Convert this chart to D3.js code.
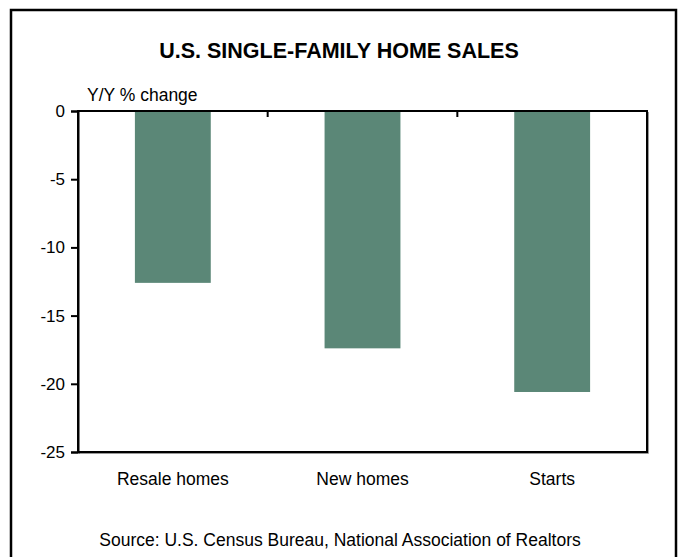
<!DOCTYPE html>
<html>
<head>
<meta charset="utf-8">
<script src="https://cdn.jsdelivr.net/npm/d3@7"></script>
<style>
  body { margin: 0; background: #fff; }
  text { font-family: Arial, "Liberation Sans", sans-serif; fill: #000; }
</style>
</head>
<body>
<div id="chart"></div>
<script>
// chart data
var categories = ["Resale homes", "New homes", "Starts"];
var values = [-12.6, -17.4, -20.6];
var yTicks = [0, -5, -10, -15, -20, -25];

var W = 681, H = 557;
var margin = {top: 111, left: 78, right: 34, bottom: 105};
var width = W - margin.left - margin.right,
    height = H - margin.top - margin.bottom;

var svg = d3.select("#chart").append("svg")
    .attr("width", W)
    .attr("height", H);

// outer box
svg.append("rect")
    .attr("x", 11).attr("y", 10)
    .attr("width", 665).attr("height", 560)
    .attr("fill", "none")
    .attr("stroke", "#000")
    .attr("stroke-width", 2.5);

// title
svg.append("text")
    .attr("x", 339).attr("y", 58)
    .attr("text-anchor", "middle")
    .style("font-size", "21.5px")
    .style("font-weight", "bold")
    .text("U.S. SINGLE-FAMILY HOME SALES");

var g = svg.append("g")
    .attr("transform", "translate(" + margin.left + "," + margin.top + ")");

var x = d3.scaleBand()
    .domain(categories)
    .range([0, width])
    .paddingInner(0.6)
    .paddingOuter(0.3);

var y = d3.scaleLinear()
    .domain([0, -25])
    .range([0, height]);

// bars
g.selectAll("rect.bar")
    .data(values)
    .enter().append("rect")
      .attr("class", "bar")
      .attr("x", function(d, i) { return x(categories[i]); })
      .attr("y", y(0))
      .attr("width", x.bandwidth())
      .attr("height", function(d) { return y(d) - y(0); })
      .attr("fill", "#5b8777");

// shadow for the frame lines
g.append("path")
    .attr("d", "M" + (width + 1.5) + "," + 1 + "V" + (height + 1.5) + "H1")
    .attr("fill", "none")
    .attr("stroke", "#999")
    .attr("stroke-width", 1);

// frame: top, right, bottom
g.append("rect")
    .attr("x", 0).attr("y", 0)
    .attr("width", width).attr("height", height)
    .attr("fill", "none")
    .attr("stroke", "#000")
    .attr("stroke-width", 2);

// top ticks at category boundaries
var bounds = [1, 2].map(function(i) { return i * x.step(); });
g.selectAll("line.xtick")
    .data(bounds)
    .enter().append("line")
      .attr("x1", function(d) { return d; })
      .attr("x2", function(d) { return d; })
      .attr("y1", 0).attr("y2", 6)
      .attr("stroke", "#000")
      .attr("stroke-width", 2);

// y axis (plain hyphen for negatives)
var yAxis = g.append("g")
    .call(d3.axisLeft(y).tickValues(yTicks).tickSize(7).tickPadding(6)
      .tickFormat(function(d) { return String(d); }));
yAxis.select(".domain").attr("stroke-width", 2);
yAxis.selectAll(".tick line").attr("stroke-width", 2);
yAxis.selectAll("text")
    .style("font-size", "17px")
    .style("font-family", "Arial, 'Liberation Sans', sans-serif");

// category labels
g.selectAll("text.cat")
    .data(categories)
    .enter().append("text")
      .attr("class", "cat")
      .attr("x", function(d) { return x(d) + x.bandwidth() / 2; })
      .attr("y", height + 33)
      .attr("text-anchor", "middle")
      .style("font-size", "17.5px")
      .text(function(d) { return d; });

// y axis title
svg.append("text")
    .attr("x", 87).attr("y", 101)
    .style("font-size", "17.5px")
    .text("Y/Y % change");

// source
svg.append("text")
    .attr("x", 340).attr("y", 546)
    .attr("text-anchor", "middle")
    .style("font-size", "17.5px")
    .text("Source: U.S. Census Bureau, National Association of Realtors");
</script>
</body>
</html>
